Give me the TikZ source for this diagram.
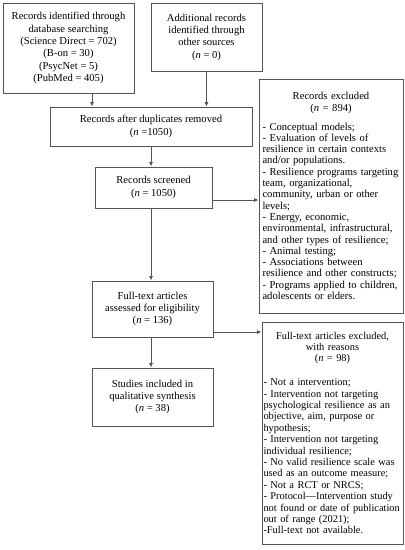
\documentclass[tikz,border=0pt]{standalone}
\usepackage{fontspec}
\setmainfont{Liberation Serif}
\usetikzlibrary{arrows.meta}
\definecolor{edge}{RGB}{85,85,85}
\begin{document}
\begin{tikzpicture}[x=1pt,y=-1pt,
  box/.style={draw=edge,line width=0.9pt,inner sep=0pt,align=center,
    font={\fontsize{10.6pt}{12.3pt}\selectfont}},
  rbox/.style={draw=edge,line width=0.9pt,inner sep=0pt,
    font={\fontsize{10.6pt}{11.3pt}\selectfont}},
  arr/.style={draw=edge,line width=0.9pt,-{Latex[length=4.5pt,width=4pt]}}]
\useasboundingbox[fill=white] (0,0) rectangle (405,550);

\node[box,minimum width=131pt,minimum height=90pt] (A) at (68.5,48)
  {Records identified through\\database searching\\(Science Direct = 702)\\(B-on = 30)\\(PsycNet = 5)\\(PubMed = 405)};
\node[box,minimum width=111pt,minimum height=68pt] (B) at (206.5,37)
  {Additional records\\identified through\\other sources\\(\textit{n} = 0)};
\node[box,minimum width=202pt,minimum height=39pt] (C) at (151,126.5)
  {Records after duplicates removed\\(\textit{n} =1050)};
\node[box,minimum width=117pt,minimum height=41pt] (D) at (153.5,187.5)
  {Records screened\\(\textit{n} = 1050)};
\node[box,minimum width=121pt,minimum height=56pt] (F) at (152.5,309)
  {Full-text articles\\assessed for eligibility\\(\textit{n} = 136)};
\node[box,minimum width=121pt,minimum height=58pt] (G) at (152.5,397)
  {Studies included in\\qualitative synthesis\\(\textit{n} = 38)};

\node[rbox,minimum width=144pt,minimum height=234pt,text width=137pt] (E) at (331,196)
  {\centering Records excluded\\(\textit{n} = 894)\par\vspace{7.7pt}\raggedright
   - Conceptual models;\\
   - Evaluation of levels of\\
   resilience in certain contexts\\
   and/or populations.\\
   - Resilience programs targeting\\
   team, organizational,\\
   community, urban or other\\
   levels;\\
   - Energy, economic,\\
   environmental, infrastructural,\\
   and other types of resilience;\\
   - Animal testing;\\
   - Associations between\\
   resilience and other constructs;\\
   - Programs applied to children,\\
   adolescents or elders.\par};

\node[rbox,minimum width=141pt,minimum height=222pt,text width=138pt,
  font={\fontsize{10.4pt}{11.4pt}\selectfont}] (H) at (332.5,433)
  {\centering Full-text articles excluded,\\with reasons\\(\textit{n} = 98)\par\vspace{12.5pt}\raggedright
   - Not a intervention;\\
   - Intervention not targeting\\
   psychological resilience as an\\
   objective, aim, purpose or\\
   hypothesis;\\
   - Intervention not targeting\\
   individual resilience;\\
   - No valid resilience scale was\\
   used as an outcome measure;\\
   - Not a RCT or NRCS;\\
   - Protocol—Intervention study\\
   not found or date of publication\\
   out of range (2021);\\
   -Full-text not available.\par};

\coordinate (a1) at ([xshift=23.5pt]A.south);
\coordinate (d1) at ([yshift=-12.5pt]D.east);
\coordinate (f1) at ([yshift=-23pt]F.east);
\draw[arr] (a1) -- (a1 |- C.north);
\draw[arr] (B.south) -- (B.south |- C.north);
\draw[arr] (C.south) -- (C.south |- D.north);
\draw[arr] (C.south |- D.south) -- (C.south |- F.north);
\draw[arr] (C.south |- F.south) -- (C.south |- G.north);
\draw[arr] (d1) -- (d1 -| E.west);
\draw[arr] (f1) -- (f1 -| H.west);
\end{tikzpicture}
\end{document}
